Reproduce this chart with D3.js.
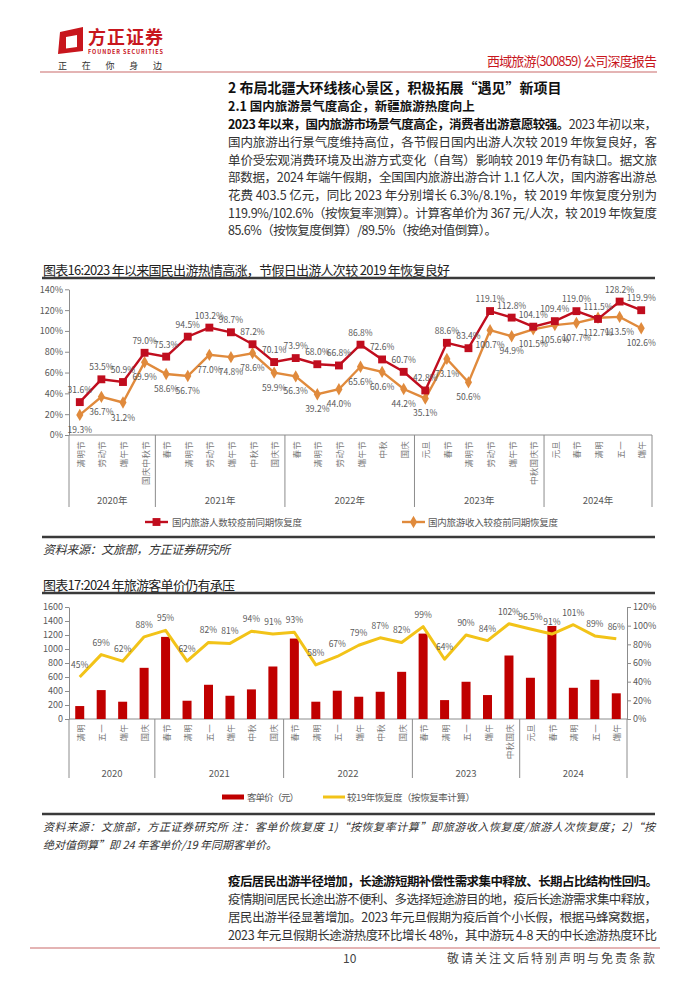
<!DOCTYPE html>
<html><head><meta charset="utf-8">
<script src="https://cdn.jsdelivr.net/npm/d3@7"></script>
<style>
body{margin:0;background:#fff}
svg{display:block}
text{font-family:"Noto Sans CJK SC","Noto Sans",sans-serif}
</style>
</head><body>
<svg id="page" width="700" height="990"></svg>
<script>
// ---------- Data: Chart 16 ----------
const cats16 = ["清明节","劳动节","端午节","国庆中秋节","春节","清明节","劳动节","端午节","中秋节","国庆节","春节","清明节","劳动节","端午节","中秋","国庆","元旦","春节","清明节","劳动节","端午节","中秋国庆节","元旦","春节","清明","五一","端午"];
const years16 = ["2020年","2021年","2022年","2023年","2024年"];
const yearCounts16 = [4,6,6,6,5];
const people16 = [31.6,53.5,50.9,79.0,75.3,94.5,103.2,98.7,87.2,70.1,73.9,68.0,66.8,86.8,72.6,60.7,42.8,88.6,83.4,119.1,112.8,104.1,109.4,119.0,111.5,128.2,119.9];
const revenue16 = [19.3,36.7,31.2,69.9,58.6,56.7,77.0,74.8,78.6,59.9,56.3,39.2,44.0,65.6,60.6,44.2,35.1,73.1,50.6,100.7,94.9,101.5,105.6,107.7,112.7,113.5,102.6];
const ticks16 = [0,20,40,60,80,100,120,140];
const legend16 = ["国内旅游人数较疫前同期恢复度","国内旅游收入较疫前同期恢复度"];

// ---------- Data: Chart 17 ----------
const cats17 = ["清明","五一","端午","国庆","春节","清明","五一","端午","中秋","国庆","春节","清明","五一","端午","中秋","国庆","春节","清明","五一","端午","中秋国庆","元旦","春节","清明","五一","端午"];
const years17 = ["2020","2021","2022","2023","2024"];
const yearCounts17 = [4,6,6,5,5];
const price17 = [185,413,247,731,1173,261,489,332,423,750,1149,247,404,318,389,674,1220,270,532,342,907,589,1329,446,560,367];
const recov17 = [45,69,62,88,95,62,82,81,94,91,93,58,67,79,87,82,99,64,90,84,102,96.5,91,101,89,86];
const ticksL17 = [0,200,400,600,800,1000,1200,1400,1600];
const ticksR17 = [0,20,40,60,80,100,120];
const legend17 = ["客单价（元）","较19年恢复度（按恢复率计算）"];

// ---------- Texts ----------
const headerRight = "西域旅游(300859) 公司深度报告";
const h1 = "2 布局北疆大环线核心景区，积极拓展“遇见”新项目";
const h2 = "2.1 国内旅游景气度高企，新疆旅游热度向上";
const para1Bold = "2023 年以来，国内旅游市场景气度高企，消费者出游意愿较强。";
const para1Lines = [
  "2023 年初以来，",
  "国内旅游出行景气度维持高位，各节假日国内出游人次较 2019 年恢复良好，客",
  "单价受宏观消费环境及出游方式变化（自驾）影响较 2019 年仍有缺口。据文旅",
  "部数据，2024 年端午假期，全国国内旅游出游合计 1.1 亿人次，国内游客出游总",
  "花费 403.5 亿元，同比 2023 年分别增长 6.3%/8.1%，较 2019 年恢复度分别为",
  "119.9%/102.6%（按恢复率测算）。计算客单价为 367 元/人次，较 2019 年恢复度",
  "85.6%（按恢复度倒算）/89.5%（按绝对值倒算）。"
];
const title16 = "图表16:2023 年以来国民出游热情高涨，节假日出游人次较 2019 年恢复良好";
const source16 = "资料来源：文旅部，方正证券研究所";
const title17 = "图表17:2024 年旅游客单价仍有承压";
const source17 = ["资料来源：文旅部，方正证券研究所  注：客单价恢复度 1)“按恢复率计算”即旅游收入恢复度/旅游人次恢复度；2)“按",
                  "绝对值倒算”即 24 年客单价/19 年同期客单价。"];
const para2Bold = "疫后居民出游半径增加，长途游短期补偿性需求集中释放、长期占比结构性回归。";
const para2Lines = [
  "疫情期间居民长途出游不便利、多选择短途游目的地，疫后长途游需求集中释放，",
  "居民出游半径显著增加。2023 年元旦假期为疫后首个小长假，根据马蜂窝数据，",
  "2023 年元旦假期长途游热度环比增长 48%，其中游玩 4-8 天的中长途游热度环比"
];
const footerPage = "10";
const footerText = "敬请关注文后特别声明与免责条款";

const svg = d3.select("#page");
svg.append("rect").attr("width",700).attr("height",990).attr("fill","#fff");

// ---------- Header ----------
const RED = "#c8161d";
svg.append("path").attr("d","M60,32 L83,27 L83,51 L58,54 Z").attr("fill",RED);
svg.append("path").attr("d","M66,37 L77,35 L77,47 L66,48.5 Z").attr("fill","#fff");
svg.append("text").attr("x",88).attr("y",36).attr("dominant-baseline","central")
  .attr("font-size",18).attr("font-weight",700).attr("fill",RED).attr("textLength",75).text("方正证券");
svg.append("text").attr("x",88).attr("y",52).attr("dominant-baseline","central")
  .attr("font-size",5.5).attr("font-weight",700).attr("fill",RED).attr("textLength",75).text("FOUNDER SECURITIES");
svg.append("text").attr("x",58).attr("y",65).attr("dominant-baseline","central")
  .attr("font-size",9).attr("fill","#333").attr("textLength",104).text("正在你身边");
svg.append("text").attr("x",487).attr("y",60).attr("dominant-baseline","central")
  .attr("font-size",13).attr("fill",RED).attr("textLength",170).text(headerRight);
svg.append("line").attr("x1",40).attr("x2",657).attr("y1",72).attr("y2",72).attr("stroke","#c96a6a").attr("stroke-width",1.2);

// ---------- Body text ----------
const TX = 228, TW = 429;
svg.append("text").attr("x",TX).attr("y",87).attr("dominant-baseline","central")
  .attr("font-size",14).attr("font-weight",700).attr("fill","#111").text(h1);
svg.append("text").attr("x",TX).attr("y",105).attr("dominant-baseline","central")
  .attr("font-size",12.5).attr("font-weight",700).attr("fill","#111").text(h2);
const p1y = [123,141,159,176.5,194,212,229.5];
{
  const t = svg.append("text").attr("x",TX).attr("y",p1y[0]).attr("dominant-baseline","central")
    .attr("font-size",12.5).attr("textLength",TW).attr("lengthAdjust","spacing");
  t.append("tspan").attr("font-weight",700).attr("fill","#111").text(para1Bold);
  t.append("tspan").attr("fill","#333").text(para1Lines[0]);
}
para1Lines.slice(1).forEach((s,i)=>{
  const last = i === para1Lines.length-2;
  const t = svg.append("text").attr("x",TX).attr("y",p1y[i+1]).attr("dominant-baseline","central")
    .attr("font-size",12.5).attr("fill","#333").text(s);
  if(!last) t.attr("textLength",TW).attr("lengthAdjust","spacing");
  else t.attr("textLength",269).attr("lengthAdjust","spacing");
});

// ---------- Chart 16 ----------
const GRAY = "#595959";
svg.append("text").attr("x",43).attr("y",269).attr("dominant-baseline","central")
  .attr("font-size",13).attr("fill","#222").attr("textLength",407).text(title16);
svg.append("line").attr("x1",42).attr("x2",655).attr("y1",278).attr("y2",278).attr("stroke","#3a3a3a").attr("stroke-width",2.5);

const x16 = d3.scaleBand().domain(d3.range(cats16.length)).range([69,652]);
const y16 = d3.scaleLinear().domain([0,140]).range([435,289.3]);
const g16 = svg.append("g");
const ax16 = g16.append("g").attr("transform","translate(69,0)")
  .call(d3.axisLeft(y16).tickValues(ticks16).tickFormat(d=>d+"%").tickSize(4).tickSizeOuter(0));
ax16.select(".domain").attr("stroke","#8c8c8c");
ax16.selectAll(".tick line").attr("stroke","#8c8c8c");
ax16.selectAll(".tick text").attr("font-size",9).attr("fill",GRAY).attr("x",-6)
  .style("font-family","'Noto Sans CJK SC',sans-serif");
g16.append("line").attr("x1",69).attr("x2",652).attr("y1",435).attr("y2",435).attr("stroke","#8c8c8c");
{
  let acc = 0;
  const bounds = [0];
  yearCounts16.forEach(c=>{acc+=c;bounds.push(acc);});
  const bx = b => b < cats16.length ? x16(b) : x16.range()[1];
  bounds.forEach(b=>{
    g16.append("line").attr("x1",bx(b)).attr("x2",bx(b)).attr("y1",435).attr("y2",507).attr("stroke","#8c8c8c");
  });
  years16.forEach((yr,i)=>{
    g16.append("text").attr("x",(bx(bounds[i])+bx(bounds[i+1]))/2).attr("y",500).attr("dominant-baseline","central")
      .attr("text-anchor","middle").attr("font-size",9.5).attr("fill",GRAY).text(yr);
  });
}
cats16.forEach((c,i)=>{
  const cx = x16(i)+x16.bandwidth()/2;
  g16.append("text").attr("transform",`translate(${cx},441) rotate(-90)`)
    .attr("text-anchor","end").attr("dominant-baseline","central")
    .attr("font-size",8.5).attr("fill","#777").attr("letter-spacing",0.3).text(c);
});
const C1 = "#c00d1e", C2 = "#e08a3c";
const cx16 = i => x16(i)+x16.bandwidth()/2;
const line16 = d3.line().x((d,i)=>cx16(i)).y(d=>y16(d));
g16.append("path").datum(revenue16).attr("d",line16).attr("fill","none").attr("stroke",C2).attr("stroke-width",2.4);
g16.append("path").datum(people16).attr("d",line16).attr("fill","none").attr("stroke",C1).attr("stroke-width",2.4);
const sq = d3.symbol().type(d3.symbolSquare).size(62);
const dm = d3.symbol().type(d3.symbolDiamond).size(44);
revenue16.forEach((v,i)=>{
  g16.append("path").attr("d",dm()).attr("transform",`translate(${cx16(i)},${y16(v)})`).attr("fill",C2);
});
people16.forEach((v,i)=>{
  g16.append("path").attr("d",sq()).attr("transform",`translate(${cx16(i)},${y16(v)})`).attr("fill",C1);
});
people16.forEach((v,i)=>{
  g16.append("text").attr("x",cx16(i)).attr("y",y16(v)-13).attr("dominant-baseline","central")
    .attr("text-anchor","middle").attr("font-size",8.5).attr("fill",GRAY).text(v.toFixed(1)+"%");
});
revenue16.forEach((v,i)=>{
  g16.append("text").attr("x",cx16(i)).attr("y",y16(v)+14).attr("dominant-baseline","central")
    .attr("text-anchor","middle").attr("font-size",8.5).attr("fill",GRAY).text(v.toFixed(1)+"%");
});
{
  const ly = 522;
  g16.append("line").attr("x1",145).attr("x2",168).attr("y1",ly).attr("y2",ly).attr("stroke",C1).attr("stroke-width",2.4);
  g16.append("path").attr("d",sq()).attr("transform",`translate(156.5,${ly})`).attr("fill",C1);
  g16.append("text").attr("x",172).attr("y",ly).attr("dominant-baseline","central").attr("font-size",9.5)
    .attr("fill",GRAY).attr("textLength",130).text(legend16[0]);
  g16.append("line").attr("x1",402).attr("x2",425).attr("y1",ly).attr("y2",ly).attr("stroke",C2).attr("stroke-width",2.4);
  g16.append("path").attr("d",dm()).attr("transform",`translate(413.5,${ly})`).attr("fill",C2);
  g16.append("text").attr("x",428).attr("y",ly).attr("dominant-baseline","central").attr("font-size",9.5)
    .attr("fill",GRAY).attr("textLength",130).text(legend16[1]);
}
svg.append("line").attr("x1",42).attr("x2",655).attr("y1",537).attr("y2",537).attr("stroke","#3a3a3a").attr("stroke-width",2.5);
svg.append("text").attr("x",43).attr("y",548).attr("dominant-baseline","central")
  .attr("font-size",12).attr("font-style","italic").attr("fill","#333").attr("textLength",187).text(source16);

// ---------- Chart 17 ----------
svg.append("text").attr("x",43).attr("y",584).attr("dominant-baseline","central")
  .attr("font-size",13).attr("fill","#222").attr("textLength",192).text(title17);
svg.append("line").attr("x1",42).attr("x2",655).attr("y1",593).attr("y2",593).attr("stroke","#3a3a3a").attr("stroke-width",2.5);

const x17 = d3.scaleBand().domain(d3.range(cats17.length)).range([69,627]);
const yL17 = d3.scaleLinear().domain([0,1600]).range([719,607]);
const yR17 = d3.scaleLinear().domain([0,120]).range([719,607]);
const g17 = svg.append("g");
const axL = g17.append("g").attr("transform","translate(69,0)")
  .call(d3.axisLeft(yL17).tickValues(ticksL17).tickFormat(d3.format("d")).tickSize(4).tickSizeOuter(0));
const axR = g17.append("g").attr("transform","translate(627,0)")
  .call(d3.axisRight(yR17).tickValues(ticksR17).tickFormat(d=>d+"%").tickSize(4).tickSizeOuter(0));
[axL,axR].forEach(a=>{
  a.select(".domain").attr("stroke","#8c8c8c");
  a.selectAll(".tick line").attr("stroke","#8c8c8c");
  a.selectAll(".tick text").attr("font-size",9).attr("fill",GRAY).style("font-family","'Noto Sans CJK SC',sans-serif");
});
axL.selectAll(".tick text").attr("x",-6);
axR.selectAll(".tick text").attr("x",6);
g17.append("line").attr("x1",69).attr("x2",627).attr("y1",719).attr("y2",719).attr("stroke","#8c8c8c");
{
  let acc = 0;
  const bounds = [0];
  yearCounts17.forEach(c=>{acc+=c;bounds.push(acc);});
  const bx = b => b < cats17.length ? x17(b) : x17.range()[1];
  bounds.forEach(b=>{
    g17.append("line").attr("x1",bx(b)).attr("x2",bx(b)).attr("y1",719).attr("y2",778).attr("stroke","#8c8c8c");
  });
  years17.forEach((yr,i)=>{
    g17.append("text").attr("x",(bx(bounds[i])+bx(bounds[i+1]))/2).attr("y",773).attr("dominant-baseline","central")
      .attr("text-anchor","middle").attr("font-size",9.5).attr("fill",GRAY).text(yr);
  });
}
const cx17 = i => x17(i)+x17.bandwidth()/2;
cats17.forEach((c,i)=>{
  g17.append("text").attr("transform",`translate(${cx17(i)},724) rotate(-90)`)
    .attr("text-anchor","end").attr("dominant-baseline","central")
    .attr("font-size",8.5).attr("fill","#777").attr("letter-spacing",0.3).text(c);
});
const BAR = "#c00000", YEL = "#f2c318";
const bw = 9;
price17.forEach((v,i)=>{
  g17.append("rect").attr("x",cx17(i)-bw/2).attr("width",bw).attr("y",yL17(v)).attr("height",719-yL17(v)).attr("fill",BAR);
});
const line17 = d3.line().x((d,i)=>cx17(i)).y(d=>yR17(d));
g17.append("path").datum(recov17).attr("d",line17).attr("fill","none").attr("stroke",YEL).attr("stroke-width",3).attr("stroke-linejoin","round");
recov17.forEach((v,i)=>{
  g17.append("text").attr("x",cx17(i)).attr("y",yR17(v)-13).attr("dominant-baseline","central")
    .attr("text-anchor","middle").attr("font-size",8.5).attr("fill",GRAY).text((Number.isInteger(v)?v:v.toFixed(1))+"%");
});
{
  const ly = 797;
  g17.append("rect").attr("x",222).attr("y",ly-2.5).attr("width",22).attr("height",5).attr("fill",BAR);
  g17.append("text").attr("x",247).attr("y",ly).attr("dominant-baseline","central").attr("font-size",9.5)
    .attr("fill",GRAY).attr("textLength",52).text(legend17[0]);
  g17.append("line").attr("x1",323).attr("x2",345).attr("y1",ly).attr("y2",ly).attr("stroke",YEL).attr("stroke-width",3);
  g17.append("text").attr("x",347).attr("y",ly).attr("dominant-baseline","central").attr("font-size",9.5)
    .attr("fill",GRAY).attr("textLength",128).text(legend17[1]);
}
svg.append("line").attr("x1",42).attr("x2",655).attr("y1",814).attr("y2",814).attr("stroke","#3a3a3a").attr("stroke-width",2.5);
svg.append("text").attr("x",43).attr("y",826).attr("dominant-baseline","central")
  .attr("font-size",11).attr("font-style","italic").attr("fill","#333").attr("textLength",612).attr("lengthAdjust","spacing").text(source17[0]);
svg.append("text").attr("x",43).attr("y",844).attr("dominant-baseline","central")
  .attr("font-size",11).attr("font-style","italic").attr("fill","#333").text(source17[1]);

// ---------- Bottom paragraph ----------
svg.append("text").attr("x",TX).attr("y",880).attr("dominant-baseline","central")
  .attr("font-size",12.5).attr("font-weight",700).attr("fill","#111").attr("textLength",TW+1).attr("lengthAdjust","spacing").text(para2Bold);
para2Lines.forEach((s,i)=>{
  svg.append("text").attr("x",TX).attr("y",898+18*i).attr("dominant-baseline","central")
    .attr("font-size",12.5).attr("fill","#333").attr("textLength",TW).attr("lengthAdjust","spacing").text(s);
});

// ---------- Footer ----------
svg.append("line").attr("x1",30).attr("x2",660).attr("y1",948).attr("y2",948).attr("stroke","#c96a6a").attr("stroke-width",1.2);
svg.append("text").attr("x",343).attr("y",957).attr("dominant-baseline","central").attr("font-size",12).attr("fill","#444").text(footerPage);
svg.append("text").attr("x",447).attr("y",957).attr("dominant-baseline","central").attr("font-size",12).attr("fill","#444")
  .attr("textLength",208).attr("lengthAdjust","spacing").text(footerText);
</script>
</body></html>
